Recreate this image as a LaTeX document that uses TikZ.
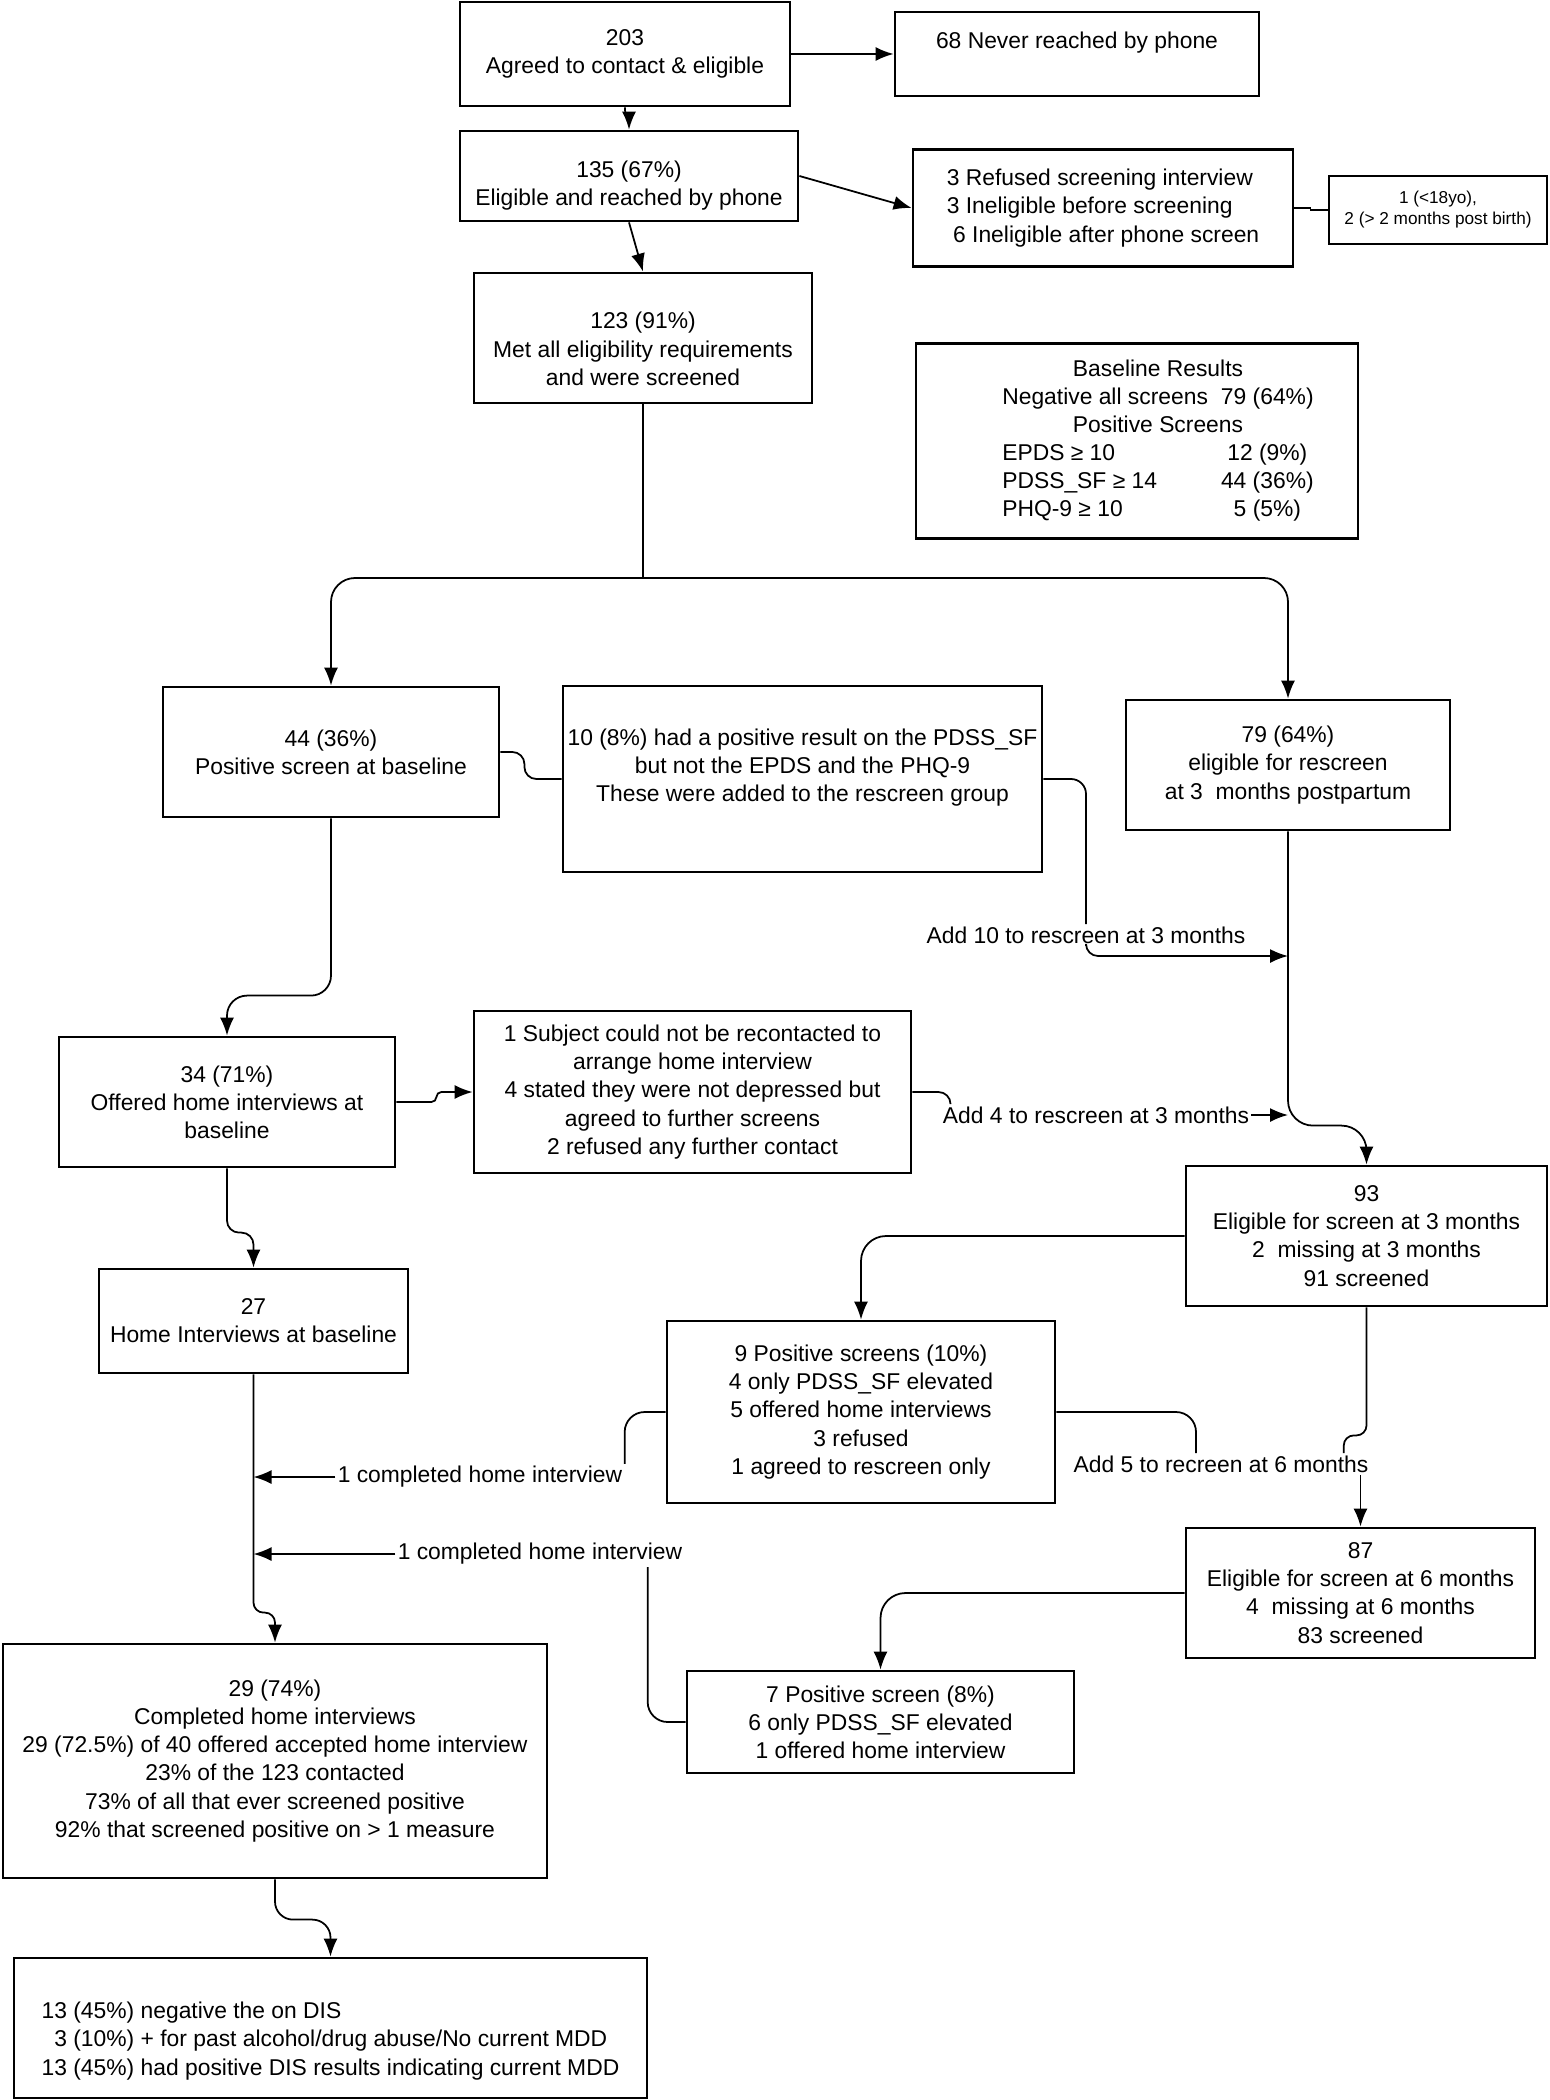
\documentclass[tikz,border=0pt]{standalone}
\usepackage{fontspec}
\setmainfont{Liberation Sans}
\usetikzlibrary{arrows.meta}
\newcommand{\boxfont}{\fontsize{6.5}{8}\selectfont}
\newcommand{\tinyfont}{\fontsize{4.9}{6}\selectfont}

\begin{document}
\begin{tikzpicture}[x=0.1mm, y=-0.1mm,
        flowbox/.style={draw, line width=0.8pt, align=center, inner sep=1pt, font=\boxfont},
        notelabel/.style={inner sep=0.5pt, font=\boxfont},
        link/.style={line width=0.5pt},
        arr/.style={link, -{Latex[length=1.8mm, width=1.4mm]}}]
        \useasboundingbox (0,0) rectangle (1549,2100);

        \node[flowbox, minimum width=33mm, minimum height=10.4mm] (n203) at (625,54) {203\\Agreed to contact \& eligible};
        \node[flowbox, minimum width=36.4mm, minimum height=8.4mm] (n68) at (1077,54) {68 Never reached by phone\\\mbox{}};
        \node[flowbox, minimum width=33.8mm, minimum height=9mm] (n135) at (629,176)
          {\mbox{}\\[2.3pt]135 (67\%)\\Eligible and reached by phone};
        \node[flowbox, align=left, minimum width=38mm, minimum height=11.7mm] (nref) at (1103,208)
          {3 Refused screening interview\\3 Ineligible before screening\\\ 6 Ineligible after phone screen};
        \node[flowbox, font=\tinyfont, minimum width=21.8mm, minimum height=6.8mm] (nsmall) at (1438,210)
          {1 (<18yo),\\2 (> 2 months post birth)};
        \node[flowbox, minimum width=33.8mm, minimum height=13mm] (n123) at (643,338)
          {\mbox{}\\[2.9pt]123 (91\%)\\Met all eligibility requirements\\and were screened};
        \node[flowbox, minimum width=44.2mm, minimum height=19.5mm] (nbase) at (1137,441) {%
          \begin{tabular}{@{\hspace{4.2mm}}l@{\hspace{1.3mm}}c@{}}
            \multicolumn{2}{@{\hspace{4.2mm}}c@{}}{Baseline Results}\\
            Negative all screens & 79 (64\%)\\
            \multicolumn{2}{@{\hspace{4.2mm}}c@{}}{Positive Screens}\\
            EPDS ≥ 10 & 12 (9\%)\\
            PDSS\_SF ≥ 14 & 44 (36\%)\\
            PHQ-9 ≥ 10 & 5 (5\%)
          \end{tabular}};

        \node[flowbox, minimum width=33.6mm, minimum height=13mm] (n44) at (331,752) {44 (36\%)\\Positive screen at baseline};
        \node[flowbox, minimum width=47.9mm, minimum height=18.6mm] (n10) at (802.5,779)
          {10 (8\%) had a positive result on the PDSS\_SF\\but not the EPDS and the PHQ-9\\These were added to the rescreen group\\\mbox{}};
        \node[flowbox, minimum width=32.4mm, minimum height=13mm] (n79) at (1288,765)
          {79 (64\%)\\eligible for rescreen\\at 3\ \ months postpartum};
        \node[flowbox, minimum width=33.6mm, minimum height=13mm] (n34) at (227,1102)
          {34 (71\%)\\Offered home interviews at\\baseline};
        \node[flowbox, minimum width=43.7mm, minimum height=16.2mm] (nsubj) at (692.5,1092)
          {1 Subject could not be recontacted to\\arrange home interview\\4 stated they were not depressed but\\agreed to further screens\\2 refused any further contact};
        \node[flowbox, minimum width=36.1mm, minimum height=14mm] (n93) at (1366.5,1236)
          {93\\Eligible for screen at 3 months\\2\ \ missing at 3 months\\91 screened};
        \node[flowbox, minimum width=30.9mm, minimum height=10.4mm] (n27) at (253.5,1321) {27\\Home Interviews at baseline};
        \node[flowbox, minimum width=38.8mm, minimum height=18.2mm] (n9) at (861,1412)
          {9 Positive screens (10\%)\\4 only PDSS\_SF elevated\\5 offered home interviews\\3 refused\\1 agreed to rescreen only};
        \node[flowbox, minimum width=34.9mm, minimum height=13mm] (n87) at (1360.5,1593)
          {87\\Eligible for screen at 6 months\\4\ \ missing at 6 months\\83 screened};
        \node[flowbox, minimum width=54.4mm, minimum height=23.4mm] (n29) at (275,1761)
          {29 (74\%)\\Completed home interviews\\29 (72.5\%) of 40 offered accepted home interview\\23\% of the 123 contacted\\73\% of all that ever screened positive\\92\% that screened positive on > 1 measure};
        \node[flowbox, minimum width=38.7mm, minimum height=10.2mm] (n7) at (880.5,1722)
          {7 Positive screen (8\%)\\6 only PDSS\_SF elevated\\1 offered home interview};
        \node[flowbox, align=left, minimum width=63.3mm, minimum height=14mm] (n13) at (330.5,2028)
          {\mbox{}\\[4.1pt]13 (45\%) negative the on DIS\\\phantom{1}3 (10\%) + for past alcohol/drug abuse/No current MDD\\13 (45\%) had positive DIS results indicating current MDD};

        \node[notelabel] (add10) at (1086,935) {Add 10 to rescreen at 3 months};
        \node[notelabel] (add4) at (1096,1115) {Add 4 to rescreen at 3 months};
        \node[notelabel] (add5) at (1221,1464) {Add 5 to recreen at 6 months};
        \node[notelabel] (home1) at (480,1477) {1 completed home interview};
        \node[notelabel] (home2) at (540,1554) {1 completed home interview};
        \coordinate (split) at (643,578);
        \coordinate (j10) at (1288,956);

        \draw[arr] (n203.east) -- (n68.west);
        \draw[arr] (n203.south) .. controls +(0,14) and +(0,-14) .. (n135.north);
        \draw[arr] (n135.east) -- (nref.west);
        \draw[arr] (n135.south) -- (n123.north);
        \draw[link] (nref.east) -- ++(16,0) |- (nsmall.west);
        \draw[link] (n123.south) -- (split);
        \draw[arr, rounded corners=2.4mm] (split) -| (n44.north);
        \draw[arr, rounded corners=2.4mm] (split) -| (n79.north);
        \draw[link, rounded corners=1.2mm] (n44.east) -- ++(24,0) |- (n10.west);
        \draw[link, rounded corners=1.5mm] (n10.east) -| (add10.north);
        \draw[arr, rounded corners=1.2mm] (add10.south) |- (j10);
        \draw[arr, rounded corners=2.5mm] (n79.south) |- ([yshift=3.9mm]n93.north) -- (n93.north);
        \draw[arr, rounded corners=0.5mm] (n34.east) -- ++(40,0) |- (nsubj.west);
        \draw[link, rounded corners=1.2mm] (nsubj.east) -| ([xshift=1mm]add4.north west);
        \draw[arr] (add4.east) -- (add4.east -| n79.south);
        \draw[arr, rounded corners=2mm] (n44.south) |- ([yshift=4mm]n34.north) -- (n34.north);
        \draw[arr, rounded corners=1.2mm] (n34.south) |- ([yshift=3.5mm]n27.north) -- (n27.north);
        \draw[arr, rounded corners=2.5mm] (n93.west) -| (n9.north);
        \draw[link, rounded corners=2mm] (n9.west) -| (home1.north east);
        \draw[arr] (home1.west) -- (home1.west -| n27.south);
        \draw[link, rounded corners=2mm] (n7.west) -| ([xshift=-3.7mm]home2.south east);
        \draw[arr] (home2.west) -- (home2.west -| n27.south);
        \draw[arr, rounded corners=1mm] (n27.south) |- ([yshift=3mm]n29.north) -- (n29.north);
        \draw[arr, rounded corners=2.5mm] (n87.west) -| (n7.north);
        \draw[link, rounded corners=1mm] (n93.south) -- ++(0,128) -| ([xshift=-2.7mm]add5.north east);
        \draw[link, rounded corners=2mm] (n9.east) -| ([xshift=-2.5mm]add5.north);
        \draw[arr] (add5.south -| n87.north) -- (n87.north);
        \draw[arr, rounded corners=1.8mm] (n29.south) |- ([yshift=3.7mm]n13.north) -- (n13.north);
\end{tikzpicture}
\end{document}
